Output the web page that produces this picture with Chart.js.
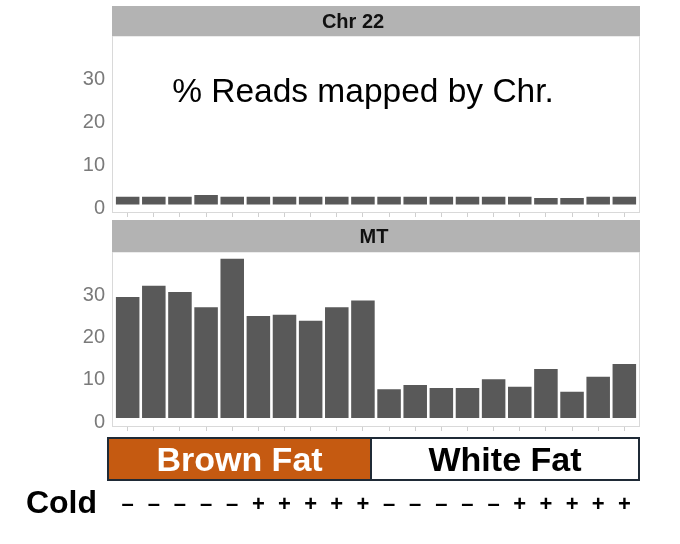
<!DOCTYPE html>
<html>
<head>
<meta charset="utf-8">
<title>% Reads mapped by Chr.</title>
<script src="https://cdn.jsdelivr.net/npm/chart.js@4.4.1/dist/chart.umd.min.js"></script>
<style>
  body { margin: 0; background: #ffffff; }
  #wrap { position: relative; width: 680px; height: 544px; }
  canvas { position: absolute; left: 0; }
  #chr22Chart { top: 0; }
  #mtChart { top: 218px; }
</style>
</head>
<body>
<div id="wrap">
  <canvas id="chr22Chart" width="680" height="240"></canvas>
  <canvas id="mtChart" width="680" height="326"></canvas>
</div>
<script>
// samples, in plot order
var samples = ['S1','S2','S3','S4','S5','S6','S7','S8','S9','S10',
               'S11','S12','S13','S14','S15','S16','S17','S18','S19','S20'];
var tissue = ['Brown Fat','Brown Fat','Brown Fat','Brown Fat','Brown Fat',
              'Brown Fat','Brown Fat','Brown Fat','Brown Fat','Brown Fat',
              'White Fat','White Fat','White Fat','White Fat','White Fat',
              'White Fat','White Fat','White Fat','White Fat','White Fat'];
var cold = ['-','-','-','-','-','+','+','+','+','+',
            '-','-','-','-','-','+','+','+','+','+'];

// % reads mapped
var chr22Values = [1.8, 1.8, 1.8, 2.2, 1.8, 1.8, 1.8, 1.8, 1.8, 1.8,
                   1.8, 1.8, 1.8, 1.8, 1.8, 1.8, 1.5, 1.5, 1.8, 1.8];
var mtValues = [28.7, 31.4, 29.9, 26.3, 37.8, 24.2, 24.5, 23.1, 26.3, 27.9,
                6.8, 7.8, 7.1, 7.1, 9.2, 7.4, 11.6, 6.2, 9.8, 12.8];
var yTicks = [0, 10, 20, 30];

// ggplot-style extra room left and right of the first/last bar
var xExpand = 2.6;

var panelPlugin = {
  id: 'panel',
  afterDraw: function(chart, args, opts) {
    var ctx = chart.ctx;
    var ca = chart.chartArea;
    var l = ca.left - xExpand, r = ca.right + xExpand;
    ctx.save();
    // panel border
    ctx.strokeStyle = '#d9d9d9';
    ctx.lineWidth = 1;
    ctx.strokeRect(l + 0.5, ca.top, r - l - 1, ca.bottom - ca.top - 0.5);
    // facet strip
    ctx.fillStyle = '#b3b3b3';
    ctx.fillRect(l, ca.top - opts.stripHeight, r - l, opts.stripHeight);
    ctx.fillStyle = '#111111';
    ctx.font = 'bold 20px "Liberation Sans", Arial, sans-serif';
    ctx.textAlign = 'center';
    ctx.textBaseline = 'middle';
    ctx.fillText(opts.label, opts.labelX, ca.top - opts.stripHeight / 2 + 1);
    if (opts.note) {
      ctx.fillStyle = '#000000';
      ctx.font = '33.5px "Liberation Sans", Arial, sans-serif';
      ctx.textBaseline = 'alphabetic';
      ctx.fillText(opts.note, 363, 102);
    }
    ctx.restore();
  }
};

var groupPlugin = {
  id: 'groups',
  afterDraw: function(chart) {
    var ctx = chart.ctx;
    var x = chart.scales.x;
    var ca = chart.chartArea;
    var boxTop = 220, boxBottom = 262;
    var left = ca.left - xExpand - 4;
    var mid = (x.getPixelForValue(9) + x.getPixelForValue(10)) / 2 - 5;
    var right = ca.right + xExpand - 1;
    ctx.save();
    ctx.fillStyle = '#c55a11';
    ctx.fillRect(left, boxTop, mid - left, boxBottom - boxTop);
    ctx.fillStyle = '#ffffff';
    ctx.fillRect(mid, boxTop, right - mid, boxBottom - boxTop);
    ctx.strokeStyle = '#1f2a36';
    ctx.lineWidth = 2;
    ctx.strokeRect(left, boxTop, mid - left, boxBottom - boxTop);
    ctx.strokeRect(mid, boxTop, right - mid, boxBottom - boxTop);

    ctx.font = 'bold 34px "Liberation Sans", Arial, sans-serif';
    ctx.textAlign = 'center';
    ctx.textBaseline = 'alphabetic';
    ctx.fillStyle = '#ffffff';
    ctx.fillText(tissue[0], (left + mid) / 2, 253);
    ctx.fillStyle = '#000000';
    ctx.fillText(tissue[10], (mid + right) / 2, 253);

    // cold row
    ctx.font = 'bold 32px "Liberation Sans", Arial, sans-serif';
    ctx.textAlign = 'right';
    ctx.fillText('Cold', 97, 295);
    ctx.font = 'bold 22px "Liberation Sans", Arial, sans-serif';
    ctx.textAlign = 'center';
    for (var i = 0; i < cold.length; i++) {
      var sign = cold[i] === '-' ? '\u2013' : '+';
      ctx.fillText(sign, x.getPixelForValue(i), 293);
    }
    ctx.restore();
  }
};

function BuildPanel(id, values, yMin, yMax, panelOpts, padding) {
  var ctx = document.getElementById(id);
  return new Chart(ctx, {
    type: 'bar',
    data: {
      labels: samples,
      datasets: [{
        label: panelOpts.label,
        data: values,
        backgroundColor: '#595959',
        borderWidth: 0,
        barPercentage: 0.9,
        categoryPercentage: 1.0
      }]
    },
    options: {
      responsive: false,
      animation: false,
      layout: { padding: padding },
      plugins: {
        legend: { display: false },
        tooltip: { enabled: false },
        panel: panelOpts
      },
      scales: {
        x: {
          grid: { display: true, drawOnChartArea: false, drawTicks: true, tickLength: 4, offset: false, color: '#cfcfcf' },
          border: { display: false },
          ticks: { display: false },
          afterFit: function(scale) { scale.height = 5; }
        },
        y: {
          min: yMin,
          max: yMax,
          grid: { display: false, drawTicks: false },
          border: { display: false },
          ticks: {
            color: '#7a7a7a',
            padding: 7 + xExpand,
            labelOffset: 4,
            font: { family: '"Liberation Sans", Arial, sans-serif', size: 20 }
          },
          afterBuildTicks: function(scale) {
            scale.ticks = yTicks.map(function(v) { return { value: v }; });
          },
          afterFit: function(scale) { scale.width = 45 + xExpand; }
        }
      }
    },
    plugins: panelOpts.extra ? [panelPlugin, groupPlugin] : [panelPlugin]
  });
}

BuildPanel('chr22Chart', chr22Values, -1.95, 39.05,
  { label: 'Chr 22', labelX: 353, stripHeight: 30, note: '% Reads mapped by Chr.' },
  { left: 67, right: 40 + xExpand, top: 36, bottom: 22 });

BuildPanel('mtChart', mtValues, -2.14, 39.4,
  { label: 'MT', labelX: 374, stripHeight: 32, extra: true },
  { left: 67, right: 40 + xExpand, top: 34, bottom: 112 });
</script>
</body>
</html>
